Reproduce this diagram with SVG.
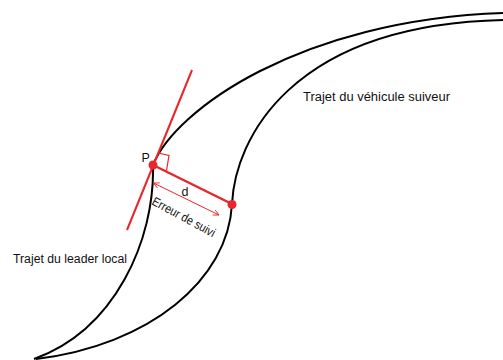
<svg xmlns="http://www.w3.org/2000/svg" width="503" height="360" viewBox="0 0 503 360">
<defs>
<style>
.path{fill:none;stroke:#000;stroke-width:2}
.red{stroke:#e8262c;fill:none}
.lbl{font-family:"Liberation Sans",Arial,sans-serif;font-size:12.5px;fill:#111}
</style>
<marker id="ah" viewBox="0 0 10 10" refX="9" refY="5" markerWidth="7" markerHeight="7" orient="auto-start-reverse" markerUnits="userSpaceOnUse">
<path d="M1,1 L9,5 L1,9" fill="none" stroke="#e8262c" stroke-width="1.2"/>
</marker>
</defs>
<rect width="503" height="360" fill="#fff"/>
<g id="connectors">
<path id="leader" class="path" d="M34,359 C115,330 155,240 153,165 C175,110 300,20 503,13"/>
<path id="follower" class="path" d="M36,359 C150,345 228,280 232,204 C235,140 290,25 503,20"/>
<line id="tangent" class="red" stroke-width="2" x1="192" y1="70" x2="127" y2="230"/>
<line id="normal" class="red" stroke-width="2.5" x1="153" y1="165" x2="232" y2="204"/>
<polyline id="right-angle" class="red" stroke-width="1.2" points="158,153 169,155.5 166.5,170.5"/>
<line id="error-arrow" class="red" stroke-width="1" x1="153.5" y1="183" x2="219" y2="215" marker-start="url(#ah)" marker-end="url(#ah)"/>
</g>
<g id="point-P">
<circle cx="153" cy="165" r="4.5" fill="#e8262c"/>
<text class="lbl" x="141.5" y="162">P</text>
</g>
<g id="point-follower">
<circle cx="232" cy="204.5" r="4.5" fill="#e8262c"/>
</g>
<g id="label-d">
<text class="lbl" x="181.5" y="196">d</text>
</g>
<g id="label-erreur">
<text class="lbl" font-size="11.5" transform="translate(151,204) rotate(28.5)" textLength="70" lengthAdjust="spacingAndGlyphs">Erreur de suivi</text>
</g>
<g id="label-suiveur">
<text class="lbl" x="303" y="101" textLength="147" lengthAdjust="spacingAndGlyphs">Trajet du véhicule suiveur</text>
</g>
<g id="label-leader">
<text class="lbl" x="13" y="263" textLength="114" lengthAdjust="spacingAndGlyphs">Trajet du leader local</text>
</g>
</svg>
